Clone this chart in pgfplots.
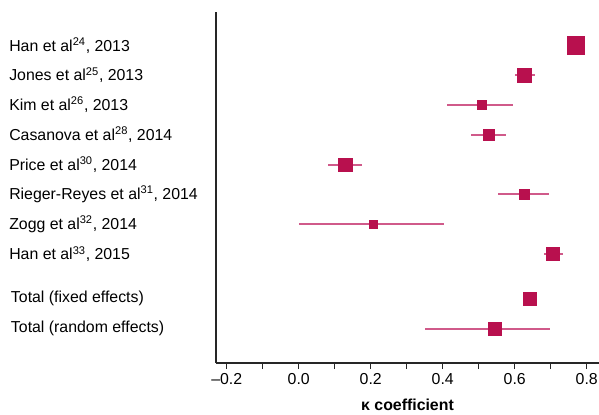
\documentclass[border=0pt]{standalone}
\usepackage{fontspec}
\setmainfont{Liberation Sans}
\usepackage{pgfplots}
\pgfplotsset{compat=1.18}
\usepackage{pgfplotstable}

\definecolor{sq}{RGB}{184,16,78}
\definecolor{ci}{RGB}{208,90,138}

% row position, kappa, lower CI, upper CI, half side of square (pt)
\pgfplotstableread{
y     k      lo     hi     s
0     0.770  0.760  0.780  6.6
-1    0.628  0.600  0.656  5.25
-2    0.510  0.413  0.594  3.4
-3    0.529  0.479  0.576  4.25
-4    0.130  0.081  0.177  4.9
-5    0.628  0.554  0.696  3.75
-6    0.209  0.000  0.403  3.0
-7    0.707  0.682  0.733  4.9
-8.5  0.643  0.640  0.646  4.9
-9.5  0.546  0.350  0.698  4.9
}\studies

\begin{document}
\begin{tikzpicture}
\useasboundingbox (-162pt,-38.25pt) rectangle (287.25pt,272.25pt);
\begin{axis}[
    scale only axis,
    width=287.25pt, height=263.25pt,
    xmin=-0.2297, xmax=0.834,
    ymin=-10.65, ymax=1.117,
    axis x line=bottom, axis y line=left,
    axis line style={-, black!85, line width=0.9pt},
    font=\fontsize{11.9}{14}\selectfont,
    xtick={-0.2,0,0.2,0.4,0.6,0.8},
    xticklabels={\textendash0.2,0.0,0.2,0.4,0.6,0.8},
    minor x tick num=1,
    tick align=outside,
    major tick length=4.5pt, minor tick length=4.5pt,
    x tick style={black!85, line width=0.8pt},
    ytick={-9.5,-8.5,-7,-6,-5,-4,-3,-2,-1,0},
    yticklabels={
        \hspace*{1.3pt}Total (random effects),
        \hspace*{1.3pt}Total (fixed effects),
        Han et al\textsuperscript{33}{,} 2015,
        Zogg et al\textsuperscript{32}{,} 2014,
        Rieger-Reyes et al\textsuperscript{31}{,} 2014,
        Price et al\textsuperscript{30}{,} 2014,
        Casanova et al\textsuperscript{28}{,} 2014,
        Kim et al\textsuperscript{26}{,} 2013,
        Jones et al\textsuperscript{25}{,} 2013,
        Han et al\textsuperscript{24}{,} 2013},
    y tick style={draw=none},
    yticklabel style={anchor=west, inner sep=0pt, xshift=-150.75pt},
    xlabel={\bfseries κ coefficient},
    xlabel style={yshift=-3.5pt},
    clip=false,
]
\addplot[only marks, mark=none,
    error bars/.cd, x dir=both, x explicit, error mark=none,
    error bar style={ci, line width=1.5pt}]
    table[x=k, y=y,
          x error plus expr=\thisrow{hi}-\thisrow{k},
          x error minus expr=\thisrow{k}-\thisrow{lo}] {\studies};
\addplot[only marks, mark=square*, scatter,
    mark options={line width=0pt},
    scatter/use mapped color={draw=sq, fill=sq},
    visualization depends on={\thisrow{s}\as\ms},
    scatter/@pre marker code/.append style={/tikz/mark size=\ms pt}]
    table[x=k, y=y] {\studies};
\end{axis}
\end{tikzpicture}
\end{document}
